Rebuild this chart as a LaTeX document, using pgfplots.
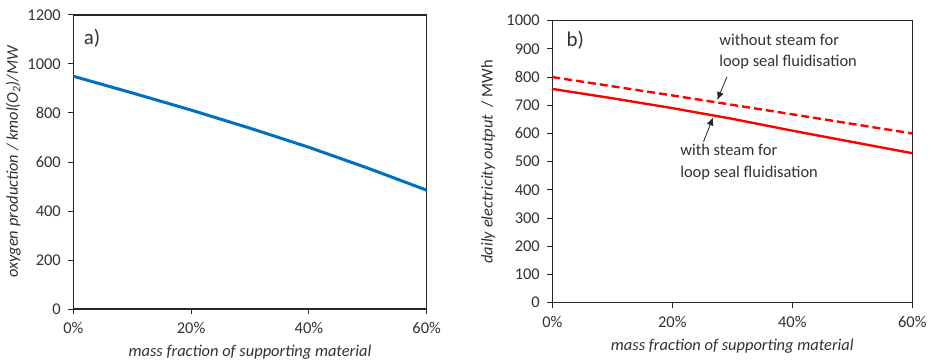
\documentclass[border=0pt]{standalone}
\usepackage{fontspec}
\setmainfont{Carlito}
\usepackage{pgfplots}
\pgfplotsset{compat=1.18}
\usetikzlibrary{arrows.meta}
\definecolor{xlblue}{RGB}{0,112,192}
\definecolor{txt}{RGB}{50,50,50}
\pgfplotsset{
  common/.style={
    scale only axis, anchor=south west, clip=false,
    axis line style={black!85, line width=1.2bp},
    tick style={black!85, line width=1bp},
    tick align=outside, major tick length=5bp,
    xtick pos=bottom, ytick pos=left,
    xmin=0, xmax=60, xtick={0,20,40,60},
    xticklabels={0\%,20\%,40\%,60\%},
    tick label style={font=\fontsize{16.5}{19}\selectfont, text=txt},
    label style={font=\fontsize{16.5}{19}\selectfont\itshape, text=txt},
    /pgf/number format/assume math mode=true,
    /pgf/number format/1000 sep={},
    xlabel={mass fraction of supporting material},
    xticklabel style={anchor=center, yshift=-14bp},
    yticklabel style={anchor=east, xshift=-4bp},
    xlabel style={at={(axis description cs:0.5,0)}, anchor=center, yshift=-43bp},
  }
}
\begin{document}
\begin{tikzpicture}[x=1bp,y=1bp]
\useasboundingbox (0,0) rectangle (931,360);
\begin{axis}[common, at={(73.3bp,51bp)}, width=353.4bp, height=294bp,
  ymin=0, ymax=1200, ytick={0,200,...,1200},
  ylabel={oxygen production / kmol(O\textsubscript{2})/MW},
  ylabel style={at={(axis description cs:0,0.5)}, anchor=center, rotate=0, yshift=60bp}]
\addplot[xlblue, line width=3bp] coordinates {(0,950) (10,882) (20,812) (30,738) (40,660) (50,575) (60,485)};
\node[anchor=west, font=\fontsize{21}{24}\selectfont, text=txt] at (axis description cs:0.02,0.92) {a)};
\end{axis}
\begin{axis}[common, at={(552.3bp,57.3bp)}, width=360bp, height=282bp,
  ymin=0, ymax=1000, ytick={0,100,...,1000},
  ylabel={daily electricity output \ {\upshape / MWh}},
  ylabel style={at={(axis description cs:0,0.5)}, anchor=center, yshift=64bp}]
\addplot[red, line width=2.4bp, dash pattern=on 8bp off 4bp] coordinates {(0,800) (20,735) (40,668) (60,600)};
\addplot[red, line width=2.4bp] coordinates {(0,758) (10,725) (20,690) (30,652) (40,610) (50,570) (60,530)};
\node[anchor=west, font=\fontsize{21}{24}\selectfont, text=txt] at (axis description cs:0.03,0.93) {b)};
\node[anchor=north west, align=left, inner sep=0pt, font=\fontsize{16.5}{21.5}\selectfont, text=txt] at (axis cs:27.8,955) {without steam for\\loop seal fluidisation};
\node[anchor=north west, align=left, inner sep=0pt, font=\fontsize{16.5}{21.5}\selectfont, text=txt] at (axis cs:21.3,562) {with steam for\\loop seal fluidisation};
\draw[-{Latex[length=8bp,width=7bp]}, line width=0.8bp, black!85] (axis cs:29.1,801) -- (axis cs:27.5,719);
\draw[-{Latex[length=8bp,width=7bp]}, line width=0.8bp, black!85] (axis cs:25.2,571) -- (axis cs:26.8,657);
\end{axis}
\end{tikzpicture}
\end{document}
